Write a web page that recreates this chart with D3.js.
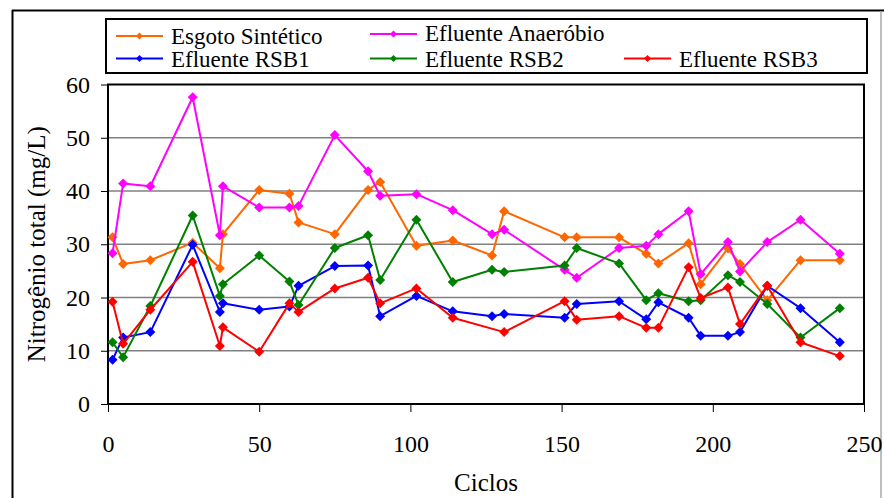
<!DOCTYPE html>
<html>
<head>
<meta charset="utf-8">
<script src="https://cdn.jsdelivr.net/npm/d3@7"></script>
<style>
  body { margin: 0; background: #fff; }
  svg text { font-family: "Liberation Serif", "Times New Roman", serif; fill: #000; }
</style>
</head>
<body>
<div id="chart"></div>
<script>
// Data
const ciclos = [1.5, 5, 14, 28, 37, 38, 50, 60, 63, 75, 86, 90, 102, 114, 127, 131, 151, 155, 169, 178, 182, 192, 196, 205, 209, 218, 229, 242];
const esgotoSintetico = [31.3, 26.3, 27.0, 30.3, 25.5, 31.9, 40.2, 39.5, 34.1, 31.9, 40.2, 41.7, 29.7, 30.7, 27.9, 36.2, 31.3, 31.3, 31.3, 28.2, 26.4, 30.2, 22.5, 29.2, 26.3, 19.5, 27.0, 27.0];
const efluenteAnaerobio = [28.3, 41.4, 40.9, 57.6, 31.7, 40.9, 36.9, 36.9, 37.2, 50.5, 43.7, 39.1, 39.4, 36.4, 31.9, 32.7, 25.2, 23.7, 29.3, 29.7, 31.9, 36.2, 24.4, 30.4, 24.9, 30.4, 34.6, 28.2];
const efluenteRSB1 = [8.3, 12.5, 13.5, 29.9, 17.3, 18.9, 17.7, 18.3, 22.2, 25.9, 26.0, 16.5, 20.3, 17.4, 16.5, 16.9, 16.2, 18.8, 19.3, 15.9, 19.1, 16.2, 12.8, 12.8, 13.5, 22.2, 18.0, 11.6];
const efluenteRSB2 = [11.6, 8.8, 18.4, 35.4, 20.3, 22.5, 27.9, 23.0, 18.6, 29.3, 31.7, 23.3, 34.6, 22.9, 25.2, 24.8, 26.0, 29.3, 26.4, 19.5, 20.8, 19.3, 19.5, 24.2, 22.9, 18.8, 12.5, 18.0];
const efluenteRSB3 = [19.2, 11.3, 17.7, 26.7, 10.9, 14.4, 9.8, 18.9, 17.3, 21.7, 23.7, 18.9, 21.7, 16.2, null, 13.5, 19.3, 15.8, 16.5, 14.3, 14.3, 25.7, 19.9, 21.9, 15.0, 22.2, 11.6, 9.0];

const seriesNames = ["Esgoto Sintético", "Efluente Anaeróbio", "Efluente RSB1", "Efluente RSB2", "Efluente RSB3"];
const seriesColors = ["#FF6600", "#FF00FF", "#0000FF", "#008000", "#FF0000"];
const seriesValues = [esgotoSintetico, efluenteAnaerobio, efluenteRSB1, efluenteRSB2, efluenteRSB3];

const xTicks = [0, 50, 100, 150, 200, 250];
const yTicks = [0, 10, 20, 30, 40, 50, 60];

const svgWidth = 884, svgHeight = 498;
const svg = d3.select("#chart").append("svg")
  .attr("width", svgWidth)
  .attr("height", svgHeight);

// plot area
const plot = {left: 108, right: 864, top: 84.5, bottom: 404};

const x = d3.scaleLinear().domain([0, 250]).range([plot.left, plot.right]);
const y = d3.scaleLinear().domain([0, 60]).range([plot.bottom, plot.top]);

// outer frame (cropped on the right/bottom in the original)
svg.append("line").attr("x1", 12).attr("x2", svgWidth).attr("y1", 10.5).attr("y2", 10.5)
  .attr("stroke", "#000").attr("stroke-width", 2);
svg.append("line").attr("x1", 12.5).attr("x2", 12.5).attr("y1", 10).attr("y2", svgHeight)
  .attr("stroke", "#000").attr("stroke-width", 2);
svg.append("line").attr("x1", 881).attr("x2", 881).attr("y1", 11).attr("y2", svgHeight)
  .attr("stroke", "#a8a8a8").attr("stroke-width", 1.5);

// horizontal grid lines
svg.append("g")
  .selectAll("line")
  .data(yTicks.filter(d => d > 0 && d < 60))
  .enter().append("line")
    .attr("x1", plot.left).attr("x2", plot.right)
    .attr("y1", d => y(d)).attr("y2", d => y(d))
    .attr("stroke", "#808080").attr("stroke-width", 1.5);

// axes
const yAxis = svg.append("g")
  .attr("transform", "translate(" + plot.left + ",0)")
  .call(d3.axisLeft(y).tickValues(yTicks).tickSize(7).tickPadding(11));
const xAxis = svg.append("g")
  .attr("transform", "translate(0," + plot.bottom + ")")
  .call(d3.axisBottom(x).tickValues(xTicks).tickSize(8).tickPadding(23));

[yAxis, xAxis].forEach(function(a) {
  a.select(".domain").remove();
  a.selectAll(".tick line").attr("stroke", "#000").attr("stroke-width", 1);
  a.selectAll("text")
    .style("font-family", '"Liberation Serif", serif')
    .style("font-size", "24px")
    .attr("fill", "#000");
});

// plot frame
svg.append("rect")
  .attr("x", plot.left).attr("y", plot.top)
  .attr("width", plot.right - plot.left)
  .attr("height", plot.bottom - plot.top)
  .attr("fill", "none").attr("stroke", "#000").attr("stroke-width", 2);

// series
const line = d3.line()
  .x(d => x(d.c))
  .y(d => y(d.v));

const diamond = d3.symbol().type(d3.symbolSquare).size(50);

seriesValues.forEach(function(vals, i) {
  const pts = ciclos.map((c, j) => ({c: c, v: vals[j]})).filter(d => d.v !== null);
  const g = svg.append("g");
  g.append("path")
    .datum(pts)
    .attr("d", line)
    .attr("fill", "none")
    .attr("stroke", seriesColors[i])
    .attr("stroke-width", 2)
    .attr("stroke-linejoin", "round");
  g.selectAll("path.pt")
    .data(pts)
    .enter().append("path")
      .attr("class", "pt")
      .attr("d", diamond)
      .attr("transform", d => "translate(" + x(d.c) + "," + y(d.v) + ") rotate(45)")
      .attr("fill", seriesColors[i]);
});

// axis titles
svg.append("text")
  .attr("x", (plot.left + plot.right) / 2)
  .attr("y", 491)
  .attr("text-anchor", "middle")
  .style("font-size", "25px")
  .text("Ciclos");

svg.append("text")
  .attr("transform", "translate(45," + (plot.top + plot.bottom) / 2 + ") rotate(-90)")
  .attr("text-anchor", "middle")
  .style("font-size", "25px")
  .text("Nitrogênio total (mg/L)");

// legend
const legend = svg.append("g");
legend.append("rect")
  .attr("x", 106).attr("y", 19)
  .attr("width", 761).attr("height", 54)
  .attr("fill", "#fff").attr("stroke", "#000").attr("stroke-width", 2);

const legendPos = [
  {x: 116, y: 36, ty: 44},
  {x: 370, y: 34, ty: 41},
  {x: 116, y: 58.5, ty: 67},
  {x: 370, y: 58.5, ty: 67},
  {x: 624, y: 58.5, ty: 67}
];
const legendMarker = d3.symbol().type(d3.symbolSquare).size(24);

seriesNames.forEach(function(name, i) {
  const p = legendPos[i];
  legend.append("line")
    .attr("x1", p.x).attr("x2", p.x + 47)
    .attr("y1", p.y).attr("y2", p.y)
    .attr("stroke", seriesColors[i]).attr("stroke-width", 2);
  legend.append("path")
    .attr("d", legendMarker)
    .attr("transform", "translate(" + (p.x + 23.5) + "," + p.y + ") rotate(45)")
    .attr("fill", seriesColors[i]);
  legend.append("text")
    .attr("x", p.x + 55)
    .attr("y", p.ty)
    .style("font-size", "23px")
    .text(name);
});
</script>
</body>
</html>
